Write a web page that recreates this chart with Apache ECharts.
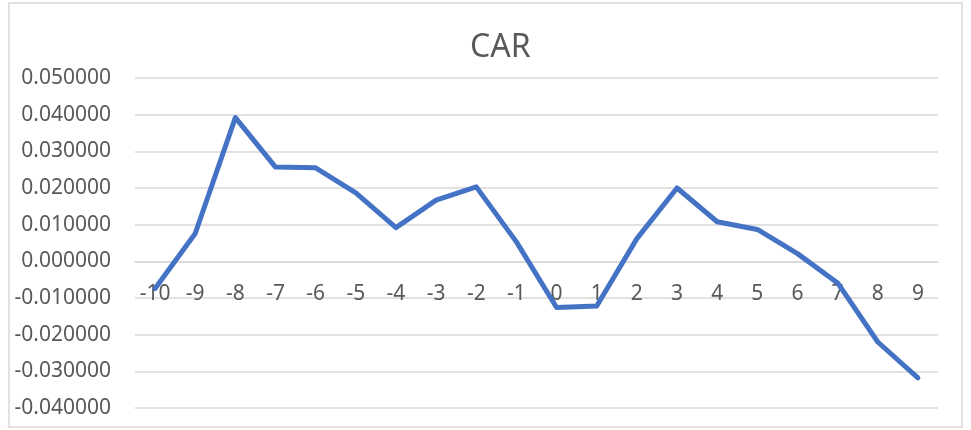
<!DOCTYPE html>
<html>
<head>
<meta charset="utf-8">
<script src="https://cdn.jsdelivr.net/npm/echarts@6/dist/echarts.min.js"></script>
<style>
  html, body { margin: 0; padding: 0; background: #fff; }
  #main { width: 971px; height: 430px; }
</style>
</head>
<body>
<div id="main"></div>
<script>
// event window days
const days = ['-10', '-9', '-8', '-7', '-6', '-5', '-4', '-3', '-2', '-1',
  '0', '1', '2', '3', '4', '5', '6', '7', '8', '9'];
// cumulative abnormal return
const carValues = [-0.0074, 0.0076, 0.0392, 0.0257, 0.0255, 0.0187, 0.0092, 0.0167, 0.0203, 0.0053,
  -0.0126, -0.0122, 0.0062, 0.0200, 0.0108, 0.0087, 0.0021, -0.0059, -0.0220, -0.0318];
const yMin = -0.04, yMax = 0.05, yStep = 0.01;

const chart = echarts.init(document.getElementById('main'), null, { renderer: 'canvas' });
const font = 'Noto Sans, Liberation Sans, sans-serif';

// plot area
const gridTop = 78, gridBottom = 22;
const plotH = 430 - gridTop - gridBottom;
// onZero is not picked up here, so lift the category axis to the zero line
const zeroOffset = -((0 - yMin) / (yMax - yMin)) * plotH;

chart.setOption({
  backgroundColor: '#fff',
  animation: false,
  title: {
    text: 'CAR',
    left: 465,
    top: 27,
    textStyle: { fontFamily: font, fontSize: 32, fontWeight: 'normal', color: '#595959' }
  },
  graphic: [{
    type: 'rect',
    shape: { x: 9, y: 3, width: 953, height: 424 },
    style: { fill: 'none', stroke: '#D9D9D9', lineWidth: 1.5 },
    silent: true
  }],
  grid: { left: 135, right: 33, top: gridTop, bottom: gridBottom, containLabel: false, outerBoundsMode: 'none' },
  xAxis: {
    type: 'category',
    data: days,
    boundaryGap: true,
    offset: zeroOffset,
    axisLine: { show: true, onZero: false, lineStyle: { color: '#D9D9D9', width: 1.5 } },
    axisTick: { show: false },
    axisLabel: { fontFamily: font, fontSize: 21, color: '#595959', margin: 22, interval: 0 }
  },
  yAxis: {
    type: 'value',
    min: yMin,
    max: yMax,
    interval: yStep,
    axisLine: { show: false },
    axisTick: { show: false },
    splitLine: { lineStyle: { color: '#D9D9D9', width: 1.5 } },
    axisLabel: {
      fontFamily: font, fontSize: 21, color: '#595959', margin: 24,
      formatter: v => v.toFixed(6)
    }
  },
  series: [{
    type: 'line',
    data: carValues,
    symbol: 'none',
    z: 3,
    lineStyle: { color: '#4472C4', width: 5, cap: 'round', join: 'round' }
  }]
});
</script>
</body>
</html>
